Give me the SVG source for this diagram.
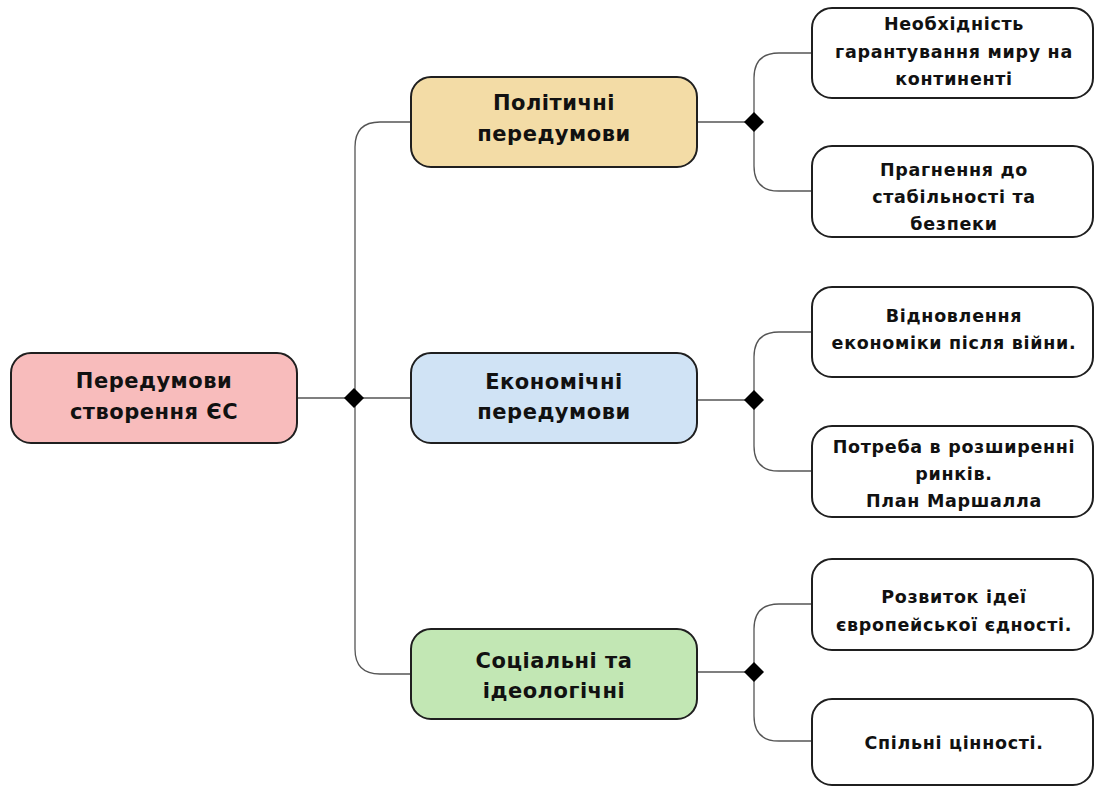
<svg xmlns="http://www.w3.org/2000/svg" width="1094" height="787" viewBox="0 0 1094 787">
<style>
.box{stroke:#1f1f1f;stroke-width:2}
.leaf{fill:#fff;stroke:#1f1f1f;stroke-width:2}
.t1{font-family:"DejaVu Sans",sans-serif;font-weight:bold;font-size:21px;letter-spacing:0.5px;fill:#111;text-anchor:middle}
.t2{font-family:"DejaVu Sans",sans-serif;font-weight:bold;font-size:17.5px;letter-spacing:0.7px;fill:#111;text-anchor:middle}
.c{fill:none;stroke:#555;stroke-width:1.3}
</style>
<rect width="1094" height="787" fill="#fff"/>
<g id="connectors">
<path class="c" d="M297 398H410"/>
<path class="c" d="M410 122H380Q355 122 355 147V649Q355 674 380 674H410"/>
<path class="c" d="M697 122H754"/>
<path class="c" d="M812 53H779Q754 53 754 78V166Q754 191 779 191H812"/>
<path class="c" d="M697 400H754"/>
<path class="c" d="M812 332H779Q754 332 754 357V446Q754 471 779 471H812"/>
<path class="c" d="M697 672H754"/>
<path class="c" d="M812 604H779Q754 604 754 629V716Q754 741 779 741H812"/>
<path d="M354 388L364 398L354 408L344 398Z" fill="#000"/>
<path d="M754 112L764 122L754 132L744 122Z" fill="#000"/>
<path d="M754 390L764 400L754 410L744 400Z" fill="#000"/>
<path d="M754 662L764 672L754 682L744 672Z" fill="#000"/>
</g>
<g id="root">
<rect class="box" x="11" y="353" width="286" height="90" rx="20" fill="#f8bcbc"/>
<text class="t1" x="154" y="388">Передумови</text>
<text class="t1" x="154" y="419">створення ЄС</text>
</g>
<g id="political">
<rect class="box" x="411" y="77" width="286" height="90" rx="20" fill="#f3dca6"/>
<text class="t1" x="554" y="110">Політичні</text>
<text class="t1" x="554" y="141">передумови</text>
</g>
<g id="economic">
<rect class="box" x="411" y="353" width="286" height="90" rx="20" fill="#d0e3f5"/>
<text class="t1" x="554" y="389">Економічні</text>
<text class="t1" x="554" y="419">передумови</text>
</g>
<g id="social">
<rect class="box" x="411" y="629" width="286" height="90" rx="20" fill="#c2e7b4"/>
<text class="t1" x="554" y="668">Соціальні та</text>
<text class="t1" x="554" y="698">ідеологічні</text>
</g>
<g id="leaf1">
<rect class="leaf" x="812" y="8" width="281" height="90" rx="20"/>
<text class="t2" x="954" y="30">Необхідність</text>
<text class="t2" x="954" y="58">гарантування миру на</text>
<text class="t2" x="954" y="85">континенті</text>
</g>
<g id="leaf2">
<rect class="leaf" x="812" y="146" width="281" height="91" rx="20"/>
<text class="t2" x="954" y="176">Прагнення до</text>
<text class="t2" x="954" y="203">стабільності та</text>
<text class="t2" x="954" y="230">безпеки</text>
</g>
<g id="leaf3">
<rect class="leaf" x="812" y="287" width="281" height="90" rx="20"/>
<text class="t2" x="954" y="322">Відновлення</text>
<text class="t2" x="954" y="349">економіки після війни.</text>
</g>
<g id="leaf4">
<rect class="leaf" x="812" y="426" width="281" height="91" rx="20"/>
<text class="t2" x="954" y="453">Потреба в розширенні</text>
<text class="t2" x="954" y="480">ринків.</text>
<text class="t2" x="954" y="507">План Маршалла</text>
</g>
<g id="leaf5">
<rect class="leaf" x="812" y="559" width="281" height="91" rx="20"/>
<text class="t2" x="954" y="603">Розвиток ідеї</text>
<text class="t2" x="954" y="631">європейської єдності.</text>
</g>
<g id="leaf6">
<rect class="leaf" x="812" y="699" width="281" height="86" rx="20"/>
<text class="t2" x="954" y="749">Спільні цінності.</text>
</g>
</svg>
